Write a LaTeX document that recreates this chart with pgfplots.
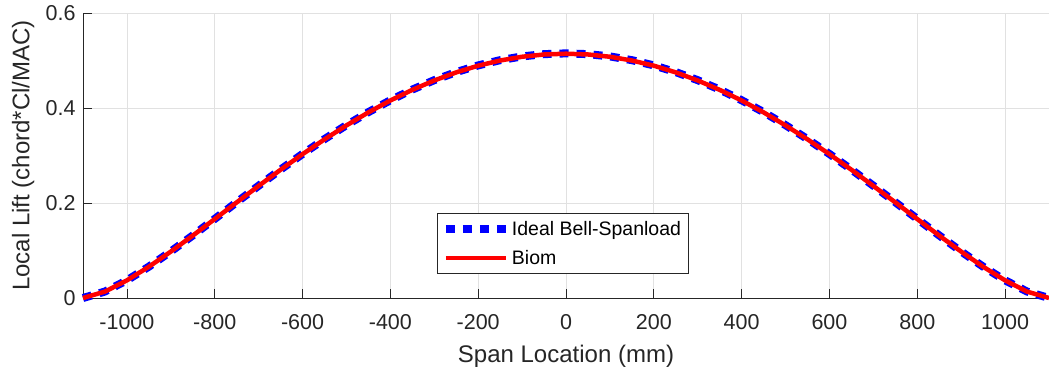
\documentclass[border=0pt]{standalone}
\usepackage{pgfplots}
\pgfplotsset{compat=1.18}
\usepackage{fontspec}
\setmainfont{Liberation Sans}
\definecolor{axgray}{RGB}{38,38,38}
\definecolor{gridgray}{RGB}{225,225,225}

% Spanload samples: span station (mm), local lift
\pgfplotstableread{
x      y
-1100  0.0000
-1050  0.0136
-1000  0.0372
-950   0.0660
-900   0.0979
-850   0.1317
-800   0.1665
-750   0.2016
-700   0.2364
-650   0.2704
-600   0.3032
-550   0.3345
-500   0.3639
-450   0.3913
-400   0.4163
-350   0.4388
-300   0.4586
-250   0.4756
-200   0.4897
-150   0.5007
-100   0.5086
-50    0.5134
0      0.5150
50     0.5134
100    0.5086
150    0.5007
200    0.4897
250    0.4756
300    0.4586
350    0.4388
400    0.4163
450    0.3913
500    0.3639
550    0.3345
600    0.3032
650    0.2704
700    0.2364
750    0.2016
800    0.1665
850    0.1317
900    0.0979
950    0.0660
1000   0.0372
1050   0.0136
1100   0.0000
}\bell

\pgfplotstableread{
x      y
-1100  0.0000
-1050  0.0135
-1000  0.0371
-950   0.0658
-900   0.0977
-850   0.1314
-800   0.1662
-750   0.2013
-700   0.2360
-650   0.2700
-600   0.3028
-550   0.3340
-500   0.3634
-450   0.3908
-400   0.4158
-350   0.4382
-300   0.4580
-250   0.4750
-200   0.4891
-150   0.5000
-100   0.5079
-50    0.5127
0      0.5143
50     0.5127
100    0.5079
150    0.5000
200    0.4891
250    0.4750
300    0.4580
350    0.4382
400    0.4158
450    0.3908
500    0.3634
550    0.3340
600    0.3028
650    0.2700
700    0.2360
750    0.2013
800    0.1662
850    0.1314
900    0.0977
950    0.0658
1000   0.0371
1050   0.0135
1100   0.0000
}\biom

\begin{document}
\begin{tikzpicture}
\useasboundingbox (0,0) rectangle (1049pt,373pt);
\begin{axis}[
  at={(83pt,75pt)}, anchor=south west,
  scale only axis, width=966pt, height=285pt,
  xmin=-1100, xmax=1100, ymin=0, ymax=0.6,
  xtick={-1000,-800,...,1000},
  ytick={0,0.2,0.4,0.6},
  /pgf/number format/1000 sep={},
  yticklabel style={/pgf/number format/fixed,/pgf/number format/precision=1, xshift=-4pt},
  xticklabel style={yshift=-13pt},
  /pgf/number format/assume math mode=true,
  axis x line*=bottom, axis y line*=left,
  axis line style={axgray, line width=0.8pt},
  tick style={axgray, line width=0.8pt},
  tick align=inside, major tick length=9pt,
  grid=major, major grid style={gridgray, line width=0.8pt},
  ticklabel style={font=\fontsize{21.5}{25}\selectfont, text=axgray},
  xlabel={Span Location (mm)},
  ylabel={Local Lift (chord*Cl/MAC)},
  label style={font=\fontsize{24}{28}\selectfont, text=axgray},
  xlabel style={at={(axis description cs:0.5,-0.2246)}, anchor=base},
  ylabel style={at={(axis description cs:-0.0554,0.5)}, anchor=base},
  legend style={at={(0.366,0.084)}, anchor=south west,
    font=\fontsize{19.5}{23}\selectfont, text=black,
    draw=axgray, line width=0.8pt, fill=white,
    inner xsep=5pt, inner ysep=6pt, row sep=9pt},
  legend cell align=left,
  legend image code/.code={\draw[#1] (0pt,0pt) -- (60pt,0pt);},
  clip=false,
]
\addplot[blue, line width=8pt, dash pattern=on 9pt off 8pt] table[x=x,y=y] {\bell};
\addlegendentry{Ideal Bell-Spanload}
\addplot[red, line width=4.5pt] table[x=x,y=y] {\biom};
\addlegendentry{Biom}
\end{axis}
\end{tikzpicture}
\end{document}
